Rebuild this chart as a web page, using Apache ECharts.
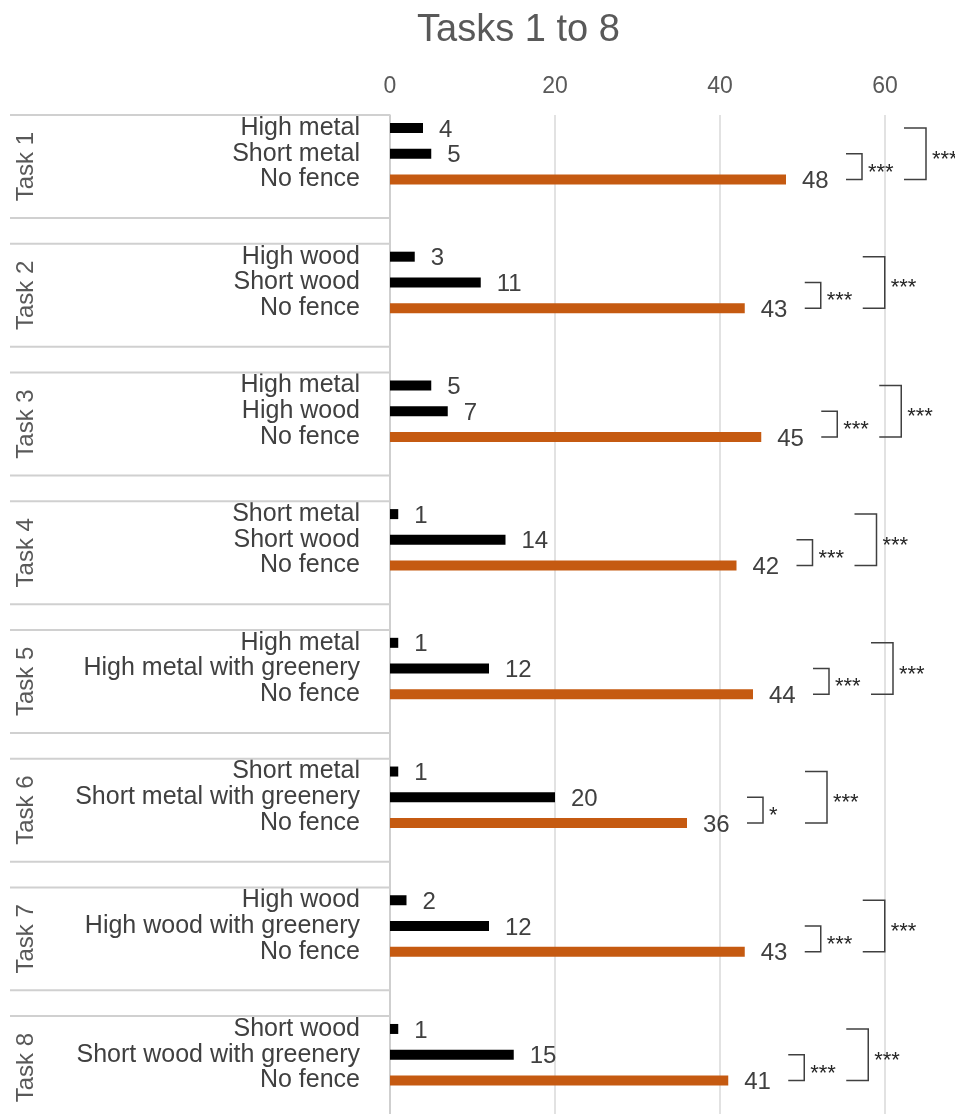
<!DOCTYPE html>
<html>
<head>
<meta charset="utf-8">
<script src="https://cdn.jsdelivr.net/npm/echarts@6/dist/echarts.min.js"></script>
<style>
html,body{margin:0;padding:0;background:#fff;}
#chart{width:955px;height:1114px;}
</style>
</head>
<body>
<div id="chart"></div>
<script>
// ---- data ----
const taskNames = ['Task 1','Task 2','Task 3','Task 4','Task 5','Task 6','Task 7','Task 8'];
const fenceLabels = [
  ['High metal','Short metal'],
  ['High wood','Short wood'],
  ['High metal','High wood'],
  ['Short metal','Short wood'],
  ['High metal','High metal with greenery'],
  ['Short metal','Short metal with greenery'],
  ['High wood','High wood with greenery'],
  ['Short wood','Short wood with greenery']
];
const noFenceLabel = 'No fence';
const fenceCounts = [[4,5],[3,11],[5,7],[1,14],[1,12],[1,20],[2,12],[1,15]];
const noFenceCounts = [48,43,45,42,44,36,43,41];
const innerSig = ['***','***','***','***','***','*','***','***'];
const outerSig = ['***','***','***','***','***','***','***','***'];
const xTicks = [0,20,40,60];

// ---- build category list (3 bars + 2 blank slots per task) ----
const SLOTS = 5;
const categories = [];
const barData = [];
taskNames.forEach((t, i) => {
  categories.push(fenceLabels[i][0], fenceLabels[i][1], noFenceLabel, '', '');
  barData.push(
    {value: fenceCounts[i][0], itemStyle:{color:'#000000'}},
    {value: fenceCounts[i][1], itemStyle:{color:'#000000'}},
    {value: noFenceCounts[i], itemStyle:{color:'#C55A11'}},
    {value: null}, {value: null}
  );
});
const annData = taskNames.map((t, i) => [noFenceCounts[i], i * SLOTS]);

const FONT = '"Liberation Sans", Arial, sans-serif';
const LINE = '#D0D0D0';

const chart = echarts.init(document.getElementById('chart'), null, {renderer:'canvas'});

function renderAnn(params, api) {
  const i = params.dataIndex;
  const v = api.value(0);
  const r1 = api.value(1), r2 = r1 + 1, r3 = r1 + 2;
  const band = api.size([0, 1])[1];
  const x0 = api.coord([0, r1])[0];
  const y1 = api.coord([0, r1])[1];
  const y2 = api.coord([0, r2])[1];
  const y3 = api.coord([0, r3])[1];
  const xv = api.coord([v, r3])[0];
  const top = y1 - band / 2;
  const bot = y3 + band * 1.5;
  const ls = {stroke:'#404040', lineWidth:1.5, fill:null};
  const ix = xv + 60, iw = 16;
  const ox = xv + 118, ow = 22;
  const children = [
    {type:'line', shape:{x1:x0 - 380, y1:top, x2:x0, y2:top}, style:{stroke:LINE, lineWidth:2}},
    {type:'line', shape:{x1:x0 - 380, y1:bot, x2:x0, y2:bot}, style:{stroke:LINE, lineWidth:2}},
    {type:'text', x: x0 - 364, y: (top + bot) / 2, rotation: Math.PI / 2,
      style:{text: taskNames[i], font: '24px ' + FONT, fill:'#595959', align:'center', verticalAlign:'middle'}},
    {type:'polyline', shape:{points:[[ix, y2],[ix + iw, y2],[ix + iw, y3],[ix, y3]]}, style:ls},
    {type:'text', x: ix + iw + 6, y: (y2 + y3) / 2 + 6,
      style:{text: innerSig[i], font:'22px ' + FONT, fill:'#262626', align:'left', verticalAlign:'middle'}},
    {type:'polyline', shape:{points:[[ox, y1],[ox + ow, y1],[ox + ow, y3],[ox, y3]]}, style:ls},
    {type:'text', x: ox + ow + 6, y: (y1 + y3) / 2 + 6,
      style:{text: outerSig[i], font:'22px ' + FONT, fill:'#262626', align:'left', verticalAlign:'middle'}}
  ];
  return {type:'group', children};
}

const option = {
  backgroundColor:'#ffffff',
  animation:false,
  title:{
    text:'Tasks 1 to 8',
    left: 412, top: 7,
    textStyle:{fontFamily:FONT, fontSize:38, fontWeight:'normal', color:'#595959'}
  },
  grid:{left:390, top:115.1, width:660, height:1029.7, containLabel:false, outerBoundsMode:'none'},
  xAxis:{
    type:'value', position:'top', min:0, max:80, interval:20,
    axisLine:{show:false}, axisTick:{show:false},
    axisLabel:{fontFamily:FONT, fontSize:23, color:'#595959', margin:17,
      formatter: (val) => xTicks.indexOf(val) >= 0 ? String(val) : ''},
    splitLine:{show:true, lineStyle:{color:'#D9D9D9', width:1.5}}
  },
  yAxis:{
    type:'category', inverse:true, data:categories,
    axisLine:{show:true, lineStyle:{color:'#C8C8C8', width:1.5}},
    axisTick:{show:false},
    axisLabel:{fontFamily:FONT, fontSize:25, color:'#404040', margin:30, interval:0, padding:[3,0,0,0]}
  },
  series:[
    {
      type:'bar', data:barData, barWidth:10,
      label:{show:true, position:'right', distance:16, fontFamily:FONT, fontSize:24, color:'#404040',
        formatter:(p)=> p.value == null ? '' : String(p.value), offset:[0,2]}
    },
    {
      type:'custom', coordinateSystem:'cartesian2d', data:annData,
      encode:{x:0, y:1}, renderItem:renderAnn, clip:false, z:5
    }
  ]
};
chart.setOption(option);
</script>
</body>
</html>
